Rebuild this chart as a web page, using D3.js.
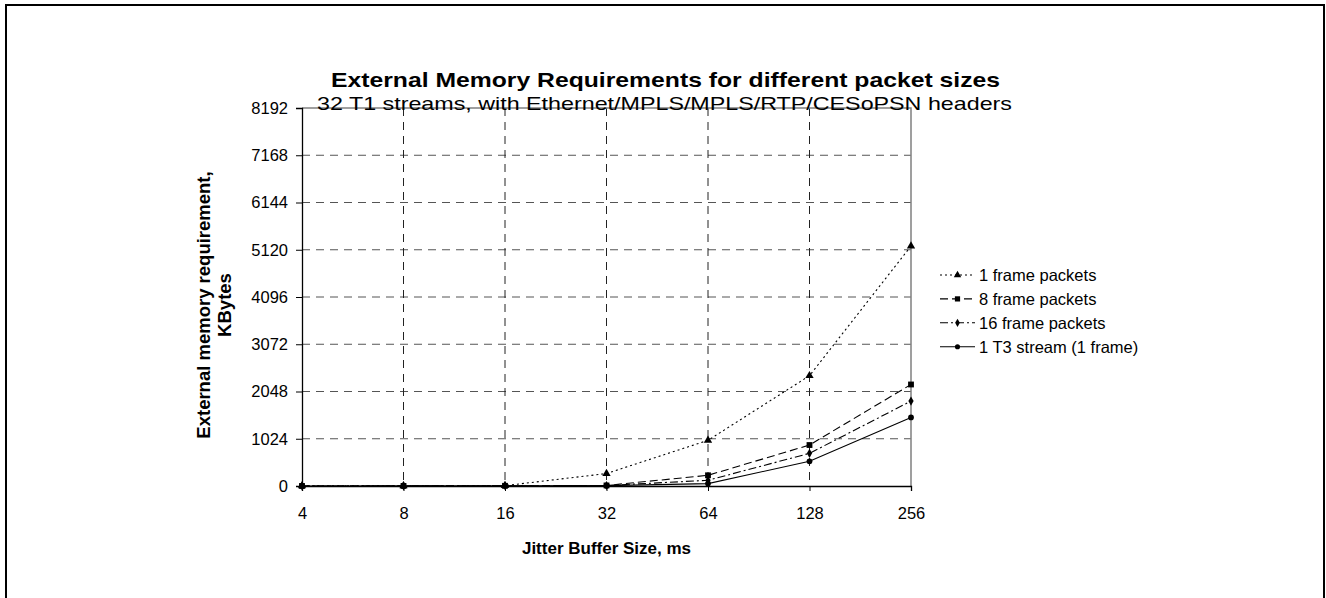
<!DOCTYPE html>
<html>
<head>
<meta charset="utf-8">
<script src="https://cdn.jsdelivr.net/npm/d3@7"></script>
<style>
  body { margin: 0; background: #fff; }
  text { font-family: "Liberation Sans", Arial, sans-serif; fill: #000; }
</style>
</head>
<body>
<svg id="viz" width="1326" height="598"></svg>
<script>
const bufferSizes = ["4", "8", "16", "32", "64", "128", "256"]
const yTicks = [0, 1024, 2048, 3072, 4096, 5120, 6144, 7168, 8192]

const oneFrame = [2, 4, 8, 270, 990, 2390, 5200]
const eightFrame = [1, 2, 4, 12, 232, 888, 2200]
const sixteenFrame = [1, 2, 4, 10, 124, 708, 1840]
const t3Stream = [1, 2, 3, 8, 52, 535, 1487]

const seriesNames = ["1 frame packets", "8 frame packets", "16 frame packets", "1 T3 stream (1 frame)"]

const series = [
  { name: seriesNames[0], values: oneFrame, dash: "2,3", marker: d3.symbolTriangle, size: 30 },
  { name: seriesNames[1], values: eightFrame, dash: "8,4", marker: d3.symbolSquare, size: 34 },
  { name: seriesNames[2], values: sixteenFrame, dash: "8,3,2,3", marker: d3.symbolDiamond, size: 24 },
  { name: seriesNames[3], values: t3Stream, dash: null, marker: d3.symbolCircle, size: 26 }
]

const MARGIN = { top: 108, bottom: 112, left: 302, right: 415 }
const svg = d3.select("svg#viz")
const width = +svg.attr("width")
const height = +svg.attr("height")

// outer frame
svg.append("rect")
  .attr("x", 6).attr("y", 5)
  .attr("width", 1318).attr("height", 620)
  .attr("fill", "none").attr("stroke", "#000").attr("stroke-width", 2)

const x = d3.scalePoint().domain(bufferSizes).range([MARGIN.left, width - MARGIN.right])
const y = d3.scaleLinear().domain([0, 8192]).range([height - MARGIN.bottom, MARGIN.top])

const x0 = x.range()[0], x1 = x.range()[1]
const y0 = y.range()[0], y1 = y.range()[1]

// grid
const grid = svg.append("g")
grid.selectAll("line.h")
  .data(yTicks.slice(1, -1))
  .join("line")
  .attr("x1", x0).attr("x2", x1)
  .attr("y1", d => y(d)).attr("y2", d => y(d))
  .attr("stroke", "#555").attr("stroke-dasharray", "8,6")
grid.selectAll("line.v")
  .data(bufferSizes.slice(1, -1))
  .join("line")
  .attr("x1", d => x(d)).attr("x2", d => x(d))
  .attr("y1", y1).attr("y2", y0)
  .attr("stroke", "#222").attr("stroke-dasharray", "8,6")

// plot frame
svg.append("path")
  .attr("d", `M${x0},${y1}H${x1}V${y0}`)
  .attr("fill", "none").attr("stroke", "#808080").attr("stroke-width", 1.5)

// axes
const yAxis = svg.append("g")
  .attr("transform", `translate(${x0},0)`)
  .call(d3.axisLeft(y).tickValues(yTicks).tickFormat(d3.format("d")).tickSize(6).tickPadding(8))
const xAxis = svg.append("g")
  .attr("transform", `translate(0,${y0})`)
  .call(d3.axisBottom(x).tickSize(5).tickPadding(16))

;[yAxis, xAxis].forEach(a => {
  a.select(".domain").attr("stroke", "#000").attr("stroke-width", 1.3)
  a.selectAll(".tick line").attr("stroke", "#000")
  a.selectAll("text").attr("font-size", 16.5).attr("font-family", "Liberation Sans, Arial, sans-serif")
})

// lines
const line = d3.line().x((d, i) => x(bufferSizes[i])).y(d => y(d))

series.forEach(s => {
  svg.append("path")
    .datum(s.values)
    .attr("d", line)
    .attr("fill", "none")
    .attr("stroke", "#000")
    .attr("stroke-width", 1.1)
    .attr("stroke-dasharray", s.dash)

  svg.append("g").selectAll("path")
    .data(s.values)
    .join("path")
    .attr("transform", (d, i) => `translate(${x(bufferSizes[i])},${y(d)})`)
    .attr("d", d3.symbol().type(s.marker).size(s.size))
    .attr("fill", "#000")
})

// titles
svg.append("text")
  .attr("x", 665.5).attr("y", 87)
  .attr("text-anchor", "middle")
  .attr("font-size", 21).attr("font-weight", "bold")
  .attr("textLength", 669).attr("lengthAdjust", "spacingAndGlyphs")
  .text("External Memory Requirements for different packet sizes")
svg.append("text")
  .attr("x", 664.5).attr("y", 110)
  .attr("text-anchor", "middle")
  .attr("font-size", 19)
  .attr("textLength", 695).attr("lengthAdjust", "spacingAndGlyphs")
  .text("32 T1 streams, with Ethernet/MPLS/MPLS/RTP/CESoPSN headers")

svg.append("text")
  .attr("x", (x0 + x1) / 2).attr("y", 554)
  .attr("text-anchor", "middle")
  .attr("font-size", 17).attr("font-weight", "bold")
  .text("Jitter Buffer Size, ms")

const yTitle = svg.append("text")
  .attr("transform", `translate(209.5,305) rotate(-90)`)
  .attr("text-anchor", "middle")
  .attr("font-size", 18.5).attr("font-weight", "bold")
yTitle.append("tspan").attr("x", 0).attr("dy", 0).text("External memory requirement,")
yTitle.append("tspan").attr("x", 0).attr("dy", 21.7).text("KBytes")

// legend
const legend = svg.append("g").attr("transform", "translate(940,275)")
series.forEach((s, i) => {
  const row = legend.append("g").attr("transform", `translate(0,${i * 23.9})`)
  row.append("line")
    .attr("x1", 0).attr("x2", 35).attr("y1", 0).attr("y2", 0)
    .attr("stroke", "#000").attr("stroke-width", 1.1)
    .attr("stroke-dasharray", s.dash)
  row.append("path")
    .attr("transform", "translate(17.5,0)")
    .attr("d", d3.symbol().type(s.marker).size(s.size * 0.8))
    .attr("fill", "#000")
  row.append("text")
    .attr("x", 39).attr("y", 6)
    .attr("font-size", 16.5)
    .text(s.name)
})
</script>
</body>
</html>
